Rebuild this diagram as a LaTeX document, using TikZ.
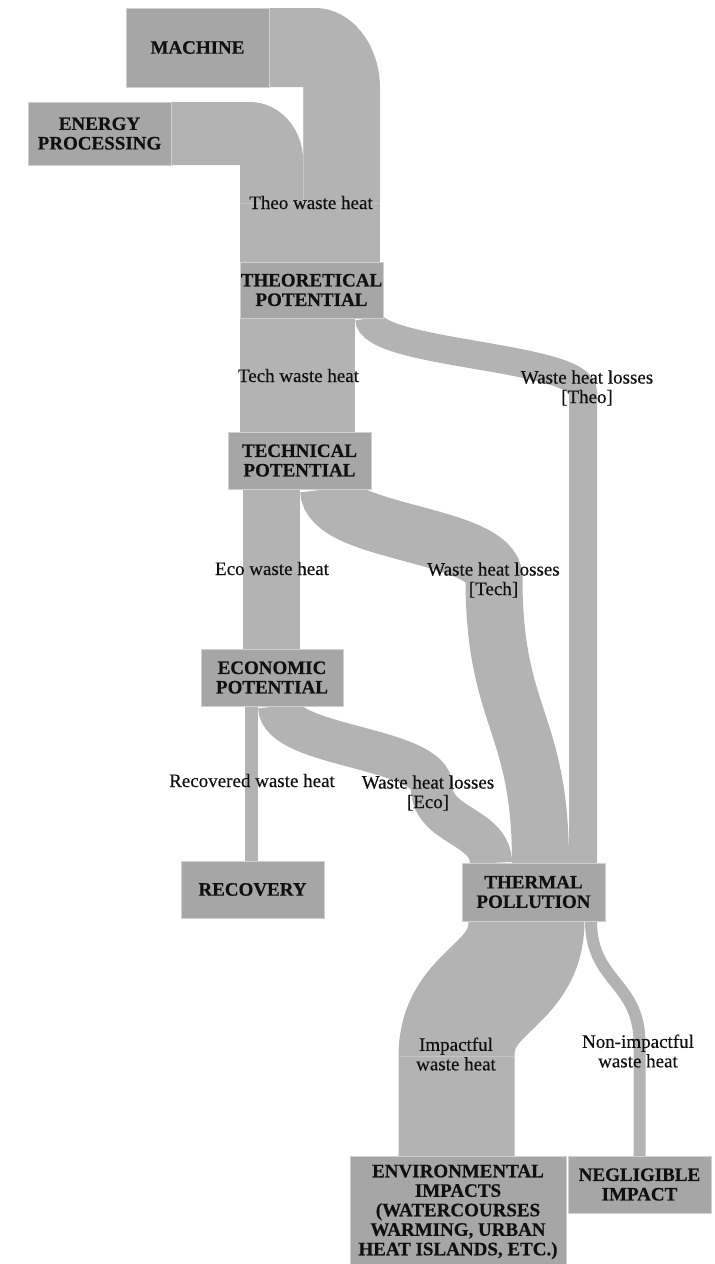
\documentclass[tikz,border=0pt]{standalone}
\usepackage{fontspec}
\setmainfont{Liberation Serif}
\newfontfamily\lblfont{Liberation Serif}[FakeBold=0.4]
\newfontfamily\boxfont{Liberation Serif Bold}[FakeBold=0.5]
\pgfdeclarelayer{bg}
\pgfsetlayers{bg,main}
\definecolor{nodefill}{HTML}{A6A6A6}
\definecolor{flowfill}{HTML}{B3B3B3}
\definecolor{nodeedge}{HTML}{D0D0D0}
\definecolor{seamcol}{HTML}{C4C4C4}
\definecolor{txt}{HTML}{101010}
\tikzset{
  box/.style={fill=nodefill, draw=nodeedge, line width=0.8pt, inner sep=0pt, align=center,
    text=txt, font=\fontsize{19}{19.5}\boxfont},
  lbl/.style={inner sep=0pt, align=center, text=txt, font=\fontsize{19}{19.5}\lblfont},
  band/.style={draw=flowfill, line cap=butt},
  bandfill/.style={fill=flowfill},
  seam/.style={draw=seamcol, line width=0.7pt}
}
\begin{document}
\begin{tikzpicture}[x=1pt,y=-1pt]
\useasboundingbox (0,0) rectangle (715,1264);

% ---------- nodes ----------
\node[box, minimum width=143, minimum height=79] (machine) at (197.5,47.5) {MACHINE};
\node[box, minimum width=143, minimum height=63] (energy) at (99.5,133.5) {ENERGY\\PROCESSING};
\node[box, minimum width=143, minimum height=56] (theo) at (311.5,290) {THEORETICAL\\POTENTIAL};
\node[box, minimum width=143, minimum height=57] (tech) at (299.5,460.5) {TECHNICAL\\POTENTIAL};
\node[box, minimum width=142, minimum height=57] (eco) at (272,677.5) {ECONOMIC\\POTENTIAL};
\node[box, minimum width=143, minimum height=57] (recovery) at (252.5,889.5) {RECOVERY};
\node[box, minimum width=143, minimum height=58] (thermal) at (533.5,892) {THERMAL\\POLLUTION};
\node[box, minimum width=216, minimum height=112] (env) at (458,1212) {ENVIRONMENTAL\\IMPACTS\\(WATERCOURSES\\WARMING, URBAN\\HEAT ISLANDS, ETC.)};
\node[box, minimum width=143, minimum height=57] (negl) at (639.5,1184.5) {NEGLIGIBLE\\IMPACT};

% ---------- flows ----------
\begin{pgfonlayer}{bg}
% machine -> theo waste heat
\path[bandfill] (269,8) -- (315,8) .. controls (351,8) and (380,44) .. (380,88)
  -- (380,203) -- (303,203) -- (303,87) -- (269,87) -- cycle;
% energy processing -> theo waste heat
\path[bandfill] (171,102) -- (250,102) .. controls (279,102) and (303,128) .. (303,160)
  -- (303,203) -- (240,203) -- (240,165) -- (171,165) -- cycle;
% theo waste heat -> theoretical
\path[bandfill] (240,203) rectangle (380,262);
% tech waste heat
\path[bandfill] (240,318) rectangle (355,432);
% waste heat losses [Theo]
\draw[band, line width=28] (369,318) .. controls (369,355) and (583,355) .. (583,392) -- (583,863);
% waste heat losses [Tech]
\draw[band, line width=57] (328.5,489) .. controls (328.5,533.5) and (494,533.5) .. (494,578)
  .. controls (494,720) and (540.5,720) .. (540.5,863);
% eco waste heat
\path[bandfill] (243,489) rectangle (300,649);
% waste heat losses [Eco]
\draw[band, line width=42] (279,706) .. controls (279,747) and (432,747) .. (432,788)
  .. controls (432,826) and (491,826) .. (491,863);
% recovered waste heat
\path[bandfill] (245,706) rectangle (258,861);
% impactful waste heat
\draw[band, line width=116] (526.5,921) .. controls (526.5,988.5) and (456.5,988.5) .. (456.5,1056) -- (456.5,1156);
% non-impactful waste heat
\draw[band, line width=12] (591,921) .. controls (591,982) and (639.5,982) .. (639.5,1043) -- (639.5,1156);
% seams
\draw[seam] (240,203) -- (380,203);
\draw[seam] (303,87) -- (303,203);
\draw[seam] (399,1056) -- (514,1056);
\end{pgfonlayer}

% ---------- labels ----------
\node[lbl] (l1) at (311,202.5) {Theo waste heat};
\node[lbl] (l2) at (298.5,375.5) {Tech waste heat};
\node[lbl] (l3) at (587,388) {Waste heat losses\\{[Theo]}};
\node[lbl] (l4) at (272,568.5) {Eco waste heat};
\node[lbl] (l5) at (493.5,580) {Waste heat losses\\{[Tech]}};
\node[lbl] (l6) at (252,780.5) {Recovered waste heat};
\node[lbl] (l7) at (428,793) {Waste heat losses\\{[Eco]}};
\node[lbl] (l8) at (456,1054) {Impactful\\waste heat};
\node[lbl] (l9) at (638,1051) {Non-impactful\\waste heat};
\end{tikzpicture}
\end{document}
